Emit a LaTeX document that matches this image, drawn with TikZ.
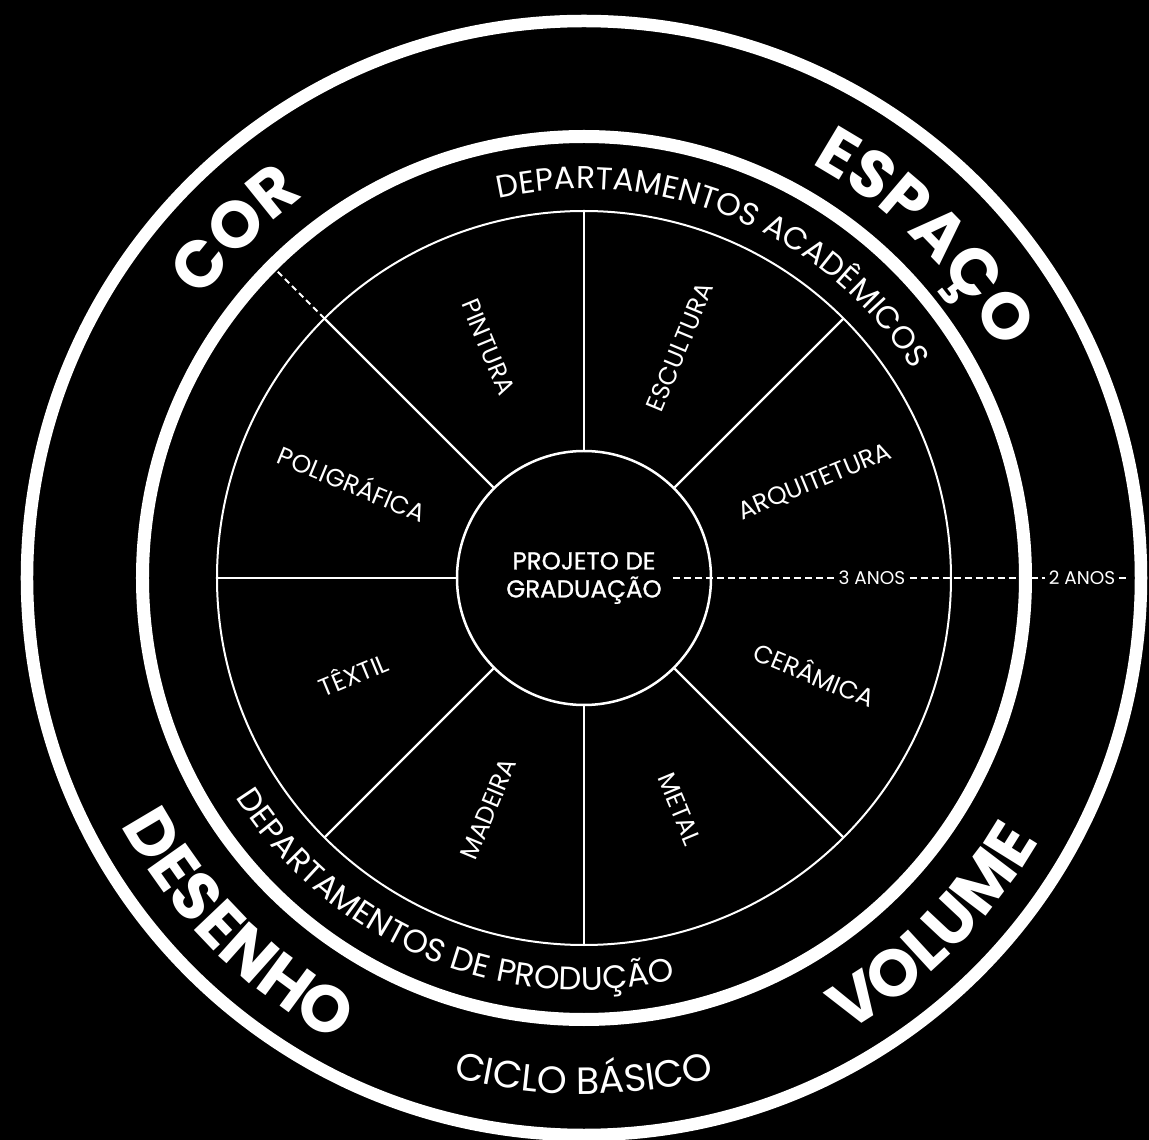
\documentclass[tikz,border=0pt]{standalone}
\usepackage{fontspec}
\setmainfont{Poppins}
\newfontfamily\medfont{Poppins}[FakeBold=1]
\usetikzlibrary{decorations.text}
\begin{document}
\begin{tikzpicture}[x=1pt,y=1pt,
  ringline/.style={draw=white,line width=#1},
  wedgeline/.style={draw=white,line width=2.4pt},
  lbl/.style={text=white,font=\fontsize{25}{25}\selectfont,inner sep=0pt},
  anos/.style={text=white,font=\fontsize{18.5}{18.5}\selectfont,inner sep=4pt},
  dashline/.style={draw=white,line width=2pt,dash pattern=on 7pt off 4pt}]
\fill[black] (-584,-562) rectangle (565,578);
\useasboundingbox (-584,-562) rectangle (565,578);
% rings
\draw[ringline=12.5pt] (0,0) circle[radius=557pt];
\draw[ringline=13pt] (0,0) circle[radius=441.5pt];
\draw[ringline=2pt] (0,0) circle[radius=367pt];
% center
\node[circle,draw=white,line width=2.5pt,minimum size=254pt,inner sep=0pt,
  align=center,text=white,font=\medfont\fontsize{24.5}{28}\selectfont] (pg) at (0,0) {PROJETO DE\\GRADUAÇÃO};
\foreach \a in {45,90,...,315} {\draw[wedgeline] (pg.\a) -- (\a:367pt);}
% wedge labels
\node[lbl,rotate=-67.5] (pin) at (112.5:250pt) {PINTURA};
\node[lbl,rotate=67.5] (esc) at (67.5:250pt) {ESCULTURA};
\node[lbl,rotate=22.5] (arq) at (22.5:250pt) {ARQUITETURA};
\node[lbl,rotate=-22.5] (cer) at (-22.5:250pt) {CERÂMICA};
\node[lbl,rotate=-67.5] (met) at (-67.5:250pt) {METAL};
\node[lbl,rotate=67.5] (mad) at (-112.5:250pt) {MADEIRA};
\node[lbl,rotate=22.5] (tex) at (202.5:250pt) {TÊXTIL};
\node[lbl,rotate=-22.5] (pol) at (157.5:250pt) {POLIGRÁFICA};
% dashed markers
\coordinate (d0) at (89,0);
\node[anos] (a3) at (288,0) {3 ANOS};
\node[anos] (a2) at (498,0) {2 ANOS};
\coordinate (d1) at (543,0);
\draw[dashline] (d0) -- (a3.west);
\draw[dashline] (a3.east) -- (a2.west);
\draw[dashline] (a2.east) -- (d1);
\coordinate (k0) at (135:367pt);
\coordinate (k1) at (135:435pt);
\draw[draw=white,line width=2pt,dash pattern=on 6pt off 4pt] (k0) -- (k1);
% curved texts inner band
\path[decorate,decoration={text along path,text align=center,text color=white,
  text={|\fontsize{31.5}{31.5}\selectfont|DEPARTAMENTOS ACADÊMICOS}}]
  (147.5:389pt) arc[start angle=147.5,end angle=-12.5,radius=389pt];
\path[decorate,decoration={text along path,text align=center,text color=white,
  text={|\fontsize{32.5}{32.5}\selectfont|DEPARTAMENTOS DE PRODUÇÃO}}]
  (167.5:412pt) arc[start angle=167.5,end angle=327.5,radius=412pt];
% outer band
\path[decorate,decoration={text along path,text align=center,text color=white,
  text={|\fontsize{66}{66}\selectfont\bfseries|COR}}]
  (195:473pt) arc[start angle=195,end angle=75,radius=473pt];
\path[decorate,decoration={text along path,text align=center,text color=white,
  text={|\fontsize{66}{66}\selectfont\bfseries|ESPAÇO}}]
  (105:473pt) arc[start angle=105,end angle=-15,radius=473pt];
\path[decorate,decoration={text along path,text align=center,text color=white,
  text={|\fontsize{66}{66}\selectfont\bfseries|DESENHO}}]
  (165:525pt) arc[start angle=165,end angle=285,radius=525pt];
\path[decorate,decoration={text along path,text align=center,text color=white,
  text={|\fontsize{66}{66}\selectfont\bfseries|VOLUME}}]
  (255:525pt) arc[start angle=255,end angle=375,radius=525pt];
\path[decorate,decoration={text along path,text align=center,text color=white,
  text={|\fontsize{38}{38}\selectfont|CICLO BÁSICO}}]
  (235:516pt) arc[start angle=235,end angle=305,radius=516pt];
\end{tikzpicture}
\end{document}
